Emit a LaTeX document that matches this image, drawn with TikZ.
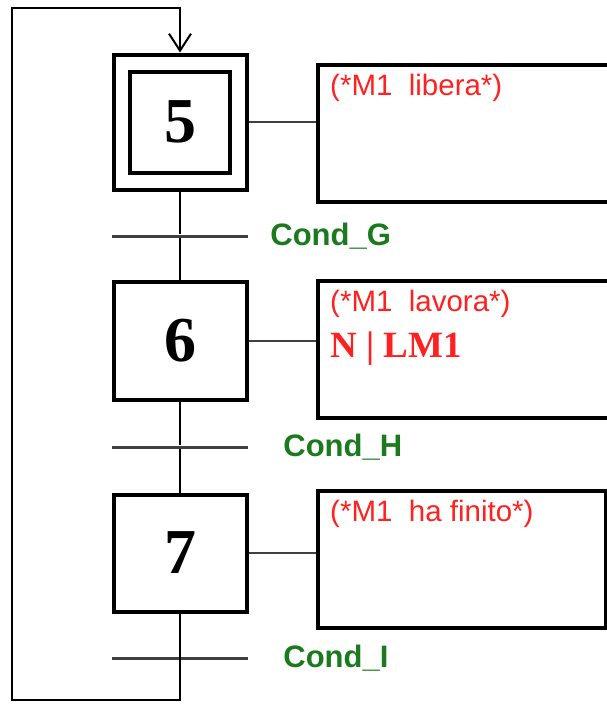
\documentclass[tikz,border=0pt]{standalone}
\usepackage{fontspec}
\setmainfont{Liberation Serif}
\setsansfont{Liberation Sans}
\usetikzlibrary{positioning,arrows.meta}
\definecolor{condGreen}{RGB}{28,122,30}
\definecolor{actionRed}{RGB}{255,32,32}
\definecolor{linkGray}{RGB}{64,64,64}

\begin{document}
\begin{tikzpicture}[x=1pt,y=-1pt,
  stepbox/.style={draw=black,line width=4pt,inner sep=0pt,minimum width=133pt,
    font=\bfseries\fontsize{64}{64}\selectfont},
  actionbox/.style={draw=black,line width=4pt,anchor=north west,minimum height=137pt},
  trans/.style={fill=linkGray,inner sep=0pt,minimum width=136pt,minimum height=3pt},
  cond/.style={text=condGreen,inner sep=0pt,font=\sffamily\bfseries\fontsize{31}{31}\selectfont},
  comment/.style={text=actionRed,inner sep=0pt,anchor=north west,
    font=\sffamily\fontsize{29.5}{29.5}\selectfont},
  link/.style={line width=2pt},
  conn/.style={draw=linkGray,line width=2.5pt}]
  \clip (0,0) rectangle (607,705);

  % steps
  \node[stepbox,minimum height=135pt] (s5) at (180,122) {};
  \node[stepbox,minimum width=100pt,minimum height=101pt] (s5in) at (s5.center) {5};
  \node[stepbox,minimum height=118pt] (s6) at (180,341) {6};
  \node[stepbox,minimum height=117pt] (s7) at (180,553) {7};

  % transitions
  \node[trans] (tG) at (180,236) {};
  \node[trans] (tH) at (180,447) {};
  \node[trans] (tI) at (180,658) {};
  \node[cond,right=22pt of tG] (cG) {Cond\_G};
  \node[cond,right=35pt of tH] (cH) {Cond\_H};
  \node[cond,right=35pt of tI] (cI) {Cond\_I};

  % actions
  \node[actionbox,minimum width=330pt] (a5) at (316,63) {};
  \node[actionbox,minimum width=330pt] (a6) at (316,279) {};
  \node[actionbox,minimum width=288pt] (a7) at (316,489) {};
  \node[comment] (c5) at ([shift={(14,11)}]a5.north west) {(*M1\ \ libera*)};
  \node[comment] (c6) at ([shift={(14,11)}]a6.north west) {(*M1\ \ lavora*)};
  \node[text=actionRed,inner sep=0pt,anchor=base west,font=\bfseries\fontsize{37}{37}\selectfont]
    (q6) at (330,357) {N | LM1};
  \node[comment] (c7) at ([shift={(14,11)}]a7.north west) {(*M1\ \ ha finito*)};

  \draw[conn] (s5.east) -- (s5.east -| a5.west);
  \draw[conn] (s6.east) -- (s6.east -| a6.west);
  \draw[conn] (s7.east) -- (s7.east -| a7.west);

  % sequence and loop back to step 5
  \coordinate (lb) at (12,700);
  \coordinate (lt) at (12,8);
  \draw[link] (s5) -- (tG) -- (s6);
  \draw[link] (s6) -- (tH) -- (s7);
  \draw[link,-{Straight Barb[length=17pt,width=22pt]}]
    (s7.south) |- (lb) -- (lt) -| (s5.north);
\end{tikzpicture}
\end{document}
